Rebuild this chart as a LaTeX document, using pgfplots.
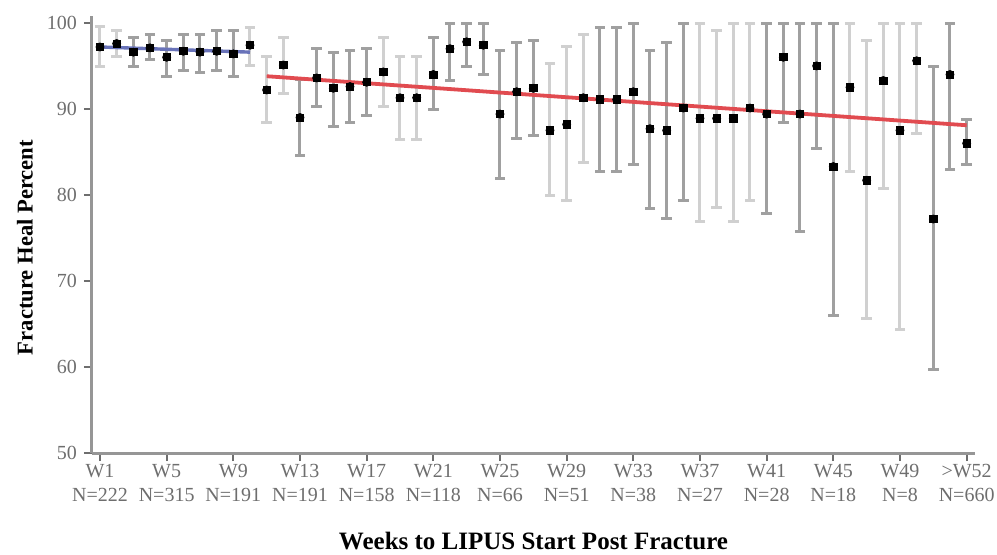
\documentclass[border=0pt]{standalone}
\usepackage{pgfplots}
\pgfplotsset{compat=1.18}
\usepackage{pgfplotstable}
\usepackage{fontspec}
\setmainfont{Liberation Serif}
\definecolor{barDark}{RGB}{160,160,160}
\definecolor{barLight}{RGB}{208,208,208}
\definecolor{axGray}{RGB}{150,150,150}
\definecolor{tickGray}{RGB}{110,110,110}
\definecolor{fitBlue}{RGB}{105,115,185}
\definecolor{fitRed}{RGB}{225,75,80}

\pgfplotstableread{
x y ep em
3 96.6 1.7 1.7
4 97.1 1.6 1.4
5 96.0 1.9 2.2
6 96.7 2.0 2.2
7 96.6 2.1 2.4
8 96.7 2.4 2.2
9 96.4 2.7 2.6
13 89.0 4.4 4.4
14 93.6 3.4 3.3
15 92.4 4.1 4.4
16 92.6 4.2 4.2
17 93.1 3.9 3.9
21 94.0 4.3 4.1
22 97.0 2.9 3.7
23 97.8 2.1 2.9
24 97.4 2.5 3.4
25 89.4 7.4 7.5
26 92.0 5.7 5.4
27 92.4 5.5 5.5
31 91.1 8.4 8.4
32 91.1 8.4 8.4
33 92.0 7.9 8.5
34 87.7 9.1 9.3
35 87.5 10.2 10.2
36 90.1 9.8 10.8
41 89.4 10.5 11.6
42 96.0 3.9 7.6
43 89.4 10.5 13.7
44 95.0 4.9 9.6
45 83.3 16.6 17.3
51 77.2 17.7 17.5
52 94.0 5.9 11.0
53 86.0 2.8 2.5
}\darkdata

\pgfplotstableread{
x y ep em
1 97.2 2.4 2.3
2 97.6 1.5 1.5
10 97.4 2.1 2.3
11 92.2 3.9 3.8
12 95.1 3.2 3.3
18 94.3 4.0 4.0
19 91.3 4.8 4.8
20 91.3 4.8 4.8
28 87.5 7.8 7.6
29 88.2 9.0 8.9
30 91.3 7.4 7.5
37 88.9 11.0 12.0
38 88.9 10.2 10.4
39 88.9 11.0 12.0
40 90.1 9.8 10.8
46 92.5 7.4 9.8
47 81.7 16.3 16.1
48 93.3 6.6 12.5
49 87.5 12.4 23.1
50 95.6 4.3 8.4
}\lightdata

\begin{document}
\begin{tikzpicture}
\path[use as bounding box] (-46pt,-50.5pt) rectangle (452.5pt,226.5pt);
\begin{axis}[
  scale only axis,
  width=441.5pt, height=218.5pt,
  xmin=0.52, xmax=53.5,
  ymin=50, ymax=100.8,
  axis lines=left,
  axis line style={draw=axGray, line width=1.5pt, -},
  xtick={1,5,9,13,17,21,25,29,33,37,41,45,49,53},
  xticklabels={{W1\\N=222},{W5\\N=315},{W9\\N=191},{W13\\N=191},{W17\\N=158},{W21\\N=118},{W25\\N=66},{W29\\N=51},{W33\\N=38},{W37\\N=27},{W41\\N=28},{W45\\N=18},{W49\\N=8},{>W52\\N=660}},
  ytick={50,60,70,80,90,100},
  tick align=outside,
  major tick length=4pt,
  tick style={draw=tickGray, line width=1pt},
  xticklabel style={align=center, font=\fontsize{10}{12}\selectfont, text=tickGray, yshift=2pt},
  yticklabel style={font=\fontsize{10}{12}\selectfont, text=tickGray},
  /pgf/number format/assume math mode=true,
  xlabel={Weeks to LIPUS Start Post Fracture},
  ylabel={Fracture Heal Percent},
  xlabel style={font=\bfseries\fontsize{12.5}{14}\selectfont, at={(axis description cs:0.5,0)}, anchor=center, yshift=-44pt},
  ylabel style={font=\bfseries\fontsize{11.3}{13}\selectfont, at={(axis description cs:-0.076,0.47)}, anchor=center},
  clip=false,
]
\addplot[only marks, mark=none, forget plot,
  error bars/.cd, y dir=both, y explicit,
  error bar style={draw=barLight, line width=1.5pt},
  error mark options={rotate=90, draw=barLight, line width=1.5pt, mark size=2.6pt}]
  table[x=x, y=y, y error plus=ep, y error minus=em]{\lightdata};
\addplot[only marks, mark=none, forget plot,
  error bars/.cd, y dir=both, y explicit,
  error bar style={draw=barDark, line width=1.5pt},
  error mark options={rotate=90, draw=barDark, line width=1.5pt, mark size=2.6pt}]
  table[x=x, y=y, y error plus=ep, y error minus=em]{\darkdata};
\addplot[fitBlue, line width=1.7pt, mark=none] coordinates {(1,97.2) (10,96.6)};
\addplot[fitRed, line width=1.9pt, mark=none] coordinates {(11,93.8) (53,88.1)};
\addplot[only marks, mark=square*, mark size=1.8pt, black] table[x=x, y=y]{\lightdata};
\addplot[only marks, mark=square*, mark size=1.8pt, black] table[x=x, y=y]{\darkdata};
\end{axis}
\end{tikzpicture}
\end{document}
